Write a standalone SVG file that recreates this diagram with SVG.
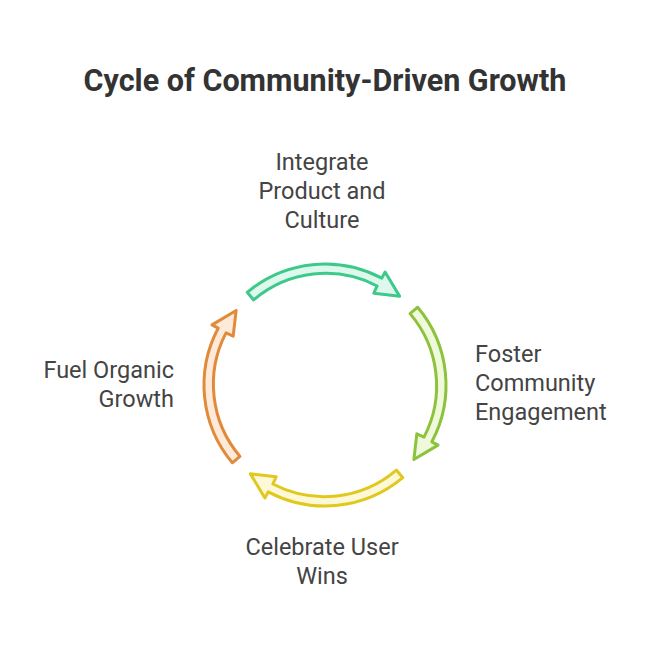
<svg xmlns="http://www.w3.org/2000/svg" width="650" height="650" viewBox="0 0 650 650">
<defs>
<style>
text{font-family:Roboto,"Liberation Sans",sans-serif;fill:#444;font-size:23.5px}
.t{font-weight:bold;font-size:30.5px;fill:#333}
.a{stroke-width:3;stroke-linejoin:round}
</style>
<path id="arr" d="M247.22,292.31 A121,121 0 0 1 381.81,278.17 L385.10,271.99 L399.56,296.14 L373.83,293.18 L377.11,286.00 A111,111 0 0 0 253.65,299.97 Z"/>
</defs>
<rect width="650" height="650" fill="#fff"/>
<text class="t" x="325" y="91" text-anchor="middle">Cycle of Community-Driven Growth</text>
<g id="connectors">
<use href="#arr" class="a" fill="#dff8ee" stroke="#3cc98a"/>
<use href="#arr" class="a" fill="#eefadb" stroke="#8dc23c" transform="rotate(90 325 385)"/>
<use href="#arr" class="a" fill="#fdf8d8" stroke="#e0c81e" transform="rotate(180 325 385)"/>
<use href="#arr" class="a" fill="#fdeadb" stroke="#e08a3a" transform="rotate(270 325 385)"/>
</g>
<g id="n1"><text x="322" y="170" text-anchor="middle">Integrate</text><text x="322" y="199" text-anchor="middle">Product and</text><text x="322" y="228" text-anchor="middle">Culture</text></g>
<g id="n2"><text x="475" y="362">Foster</text><text x="475" y="391">Community</text><text x="475" y="420">Engagement</text></g>
<g id="n3"><text x="322" y="555" text-anchor="middle">Celebrate User</text><text x="322" y="584" text-anchor="middle">Wins</text></g>
<g id="n4"><text x="174" y="378" text-anchor="end">Fuel Organic</text><text x="174" y="407" text-anchor="end">Growth</text></g>
</svg>
